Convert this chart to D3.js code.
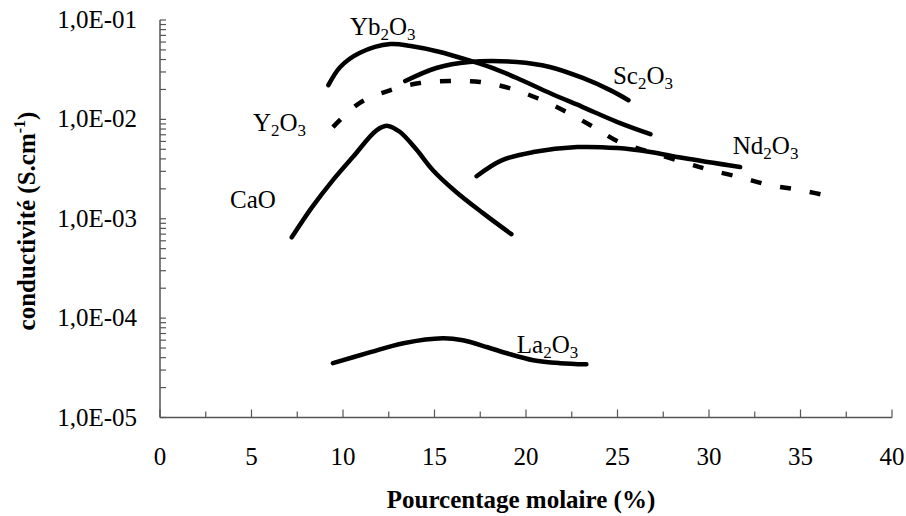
<!DOCTYPE html>
<html>
<head>
<meta charset="utf-8">
<script src="https://cdn.jsdelivr.net/npm/d3@7"></script>
<style>
  body { margin: 0; background: #fff; }
  svg text { font-family: "Liberation Serif", "Times New Roman", serif; fill: #000; }
</style>
</head>
<body>
<div id="chart"></div>
<script>
// tick values and labels
const xTicks = [0, 5, 10, 15, 20, 25, 30, 35, 40];
const yTicks = [1e-5, 1e-4, 1e-3, 1e-2, 1e-1];
const yTickLabels = ["1,0E-05", "1,0E-04", "1,0E-03", "1,0E-02", "1,0E-01"];

// series, [mol %, conductivity S/cm]
const yb2o3 = [[9.2, 0.0221], [9.85, 0.0337], [10.9, 0.0466], [12.6, 0.0573], [13.7, 0.0547],
  [15.3, 0.0477], [16.8, 0.0396], [18.0, 0.0337], [19.5, 0.0261], [21.3, 0.0184],
  [23.1, 0.0133], [25.0, 0.0094], [26.8, 0.0071]];
const sc2o3 = [[13.4, 0.0243], [15.1, 0.0329], [16.9, 0.0378], [19.5, 0.0378], [21.3, 0.0337],
  [23.1, 0.0261], [24.6, 0.0197], [25.6, 0.0156]];
const y2o3 = [[9.45, 0.00835], [10.9, 0.0146], [12.6, 0.0197], [14.2, 0.0232], [15.85, 0.0243],
  [17.5, 0.0238], [19.1, 0.0206], [20.6, 0.0164], [22.2, 0.0119], [23.7, 0.00835],
  [25.1, 0.0059], [26.8, 0.00469], [28.6, 0.00372], [30.05, 0.00309], [31.7, 0.00262],
  [33.3, 0.00218], [35.0, 0.00194], [36.8, 0.00165]];
const nd2o3 = [[17.3, 0.00268], [18.7, 0.00389], [20.4, 0.00469], [22.8, 0.00526], [25.0, 0.00514],
  [26.8, 0.00469], [28.6, 0.00408], [31.7, 0.00331]];
const cao = [[7.2, 0.00065], [8.3, 0.0013], [9.45, 0.00245], [10.55, 0.0042], [11.85, 0.0078],
  [12.45, 0.0086], [13.1, 0.0075], [14.0, 0.0050], [14.9, 0.0031], [16.2, 0.00185],
  [17.65, 0.00114], [19.2, 0.0007]];
const la2o3 = [[9.45, 3.52e-5], [11.5, 4.54e-5], [13.3, 5.59e-5], [15.45, 6.28e-5], [16.55, 5.99e-5],
  [17.9, 5.09e-5], [18.95, 4.43e-5], [20.4, 3.77e-5], [21.85, 3.52e-5], [23.3, 3.43e-5]];

const series = [
  { name: "Yb2O3", data: yb2o3, dashed: false },
  { name: "Sc2O3", data: sc2o3, dashed: false },
  { name: "Y2O3", data: y2o3, dashed: true },
  { name: "Nd2O3", data: nd2o3, dashed: false },
  { name: "CaO", data: cao, dashed: false },
  { name: "La2O3", data: la2o3, dashed: false }
];

// label text parts: [main, subscript, main, subscript] and anchor in data units
const labels = [
  { parts: ["Yb", "2", "O", "3"], at: [10.38, 0.0706] },
  { parts: ["Sc", "2", "O", "3"], at: [24.75, 0.0226] },
  { parts: ["Y", "2", "O", "3"], at: [5.08, 0.00762] },
  { parts: ["CaO"], at: [3.83, 0.00128] },
  { parts: ["Nd", "2", "O", "3"], at: [31.3, 0.00448] },
  { parts: ["La", "2", "O", "3"], at: [19.5, 4.43e-5] }
];

const width = 906, height = 516;
const margin = { top: 20, right: 14, bottom: 99, left: 160 };

const svg = d3.select("#chart").append("svg")
  .attr("width", width)
  .attr("height", height);

const x = d3.scaleLinear().domain([0, 40]).range([margin.left, width - margin.right]);
const y = d3.scaleLog().domain([1e-5, 1e-1]).range([height - margin.bottom + 0.5, margin.top]);

// minor ticks on the log axis (2..9 in each decade)
const yMinor = [];
for (let e = -5; e < -1; e++) {
  for (let k = 2; k <= 9; k++) yMinor.push(k * Math.pow(10, e));
}
const xMinor = d3.range(2.5, 40, 5);

const axisColor = "#555";
const gx = svg.append("g");
const gy = svg.append("g");

// axis lines
gx.append("line")
  .attr("x1", x(0)).attr("x2", x(40))
  .attr("y1", y(1e-5)).attr("y2", y(1e-5))
  .attr("stroke", axisColor).attr("stroke-width", 1.5);
gy.append("line")
  .attr("x1", x(0)).attr("x2", x(0))
  .attr("y1", y(1e-5)).attr("y2", y(1e-1))
  .attr("stroke", axisColor).attr("stroke-width", 1.5);

// x ticks (pointing up into the plot)
gx.selectAll(".maj").data(xTicks).join("line")
  .attr("x1", d => x(d)).attr("x2", d => x(d))
  .attr("y1", y(1e-5)).attr("y2", y(1e-5) - 8)
  .attr("stroke", axisColor).attr("stroke-width", 1.2);
gx.selectAll(".min").data(xMinor).join("line")
  .attr("x1", d => x(d)).attr("x2", d => x(d))
  .attr("y1", y(1e-5)).attr("y2", y(1e-5) - 6)
  .attr("stroke", axisColor).attr("stroke-width", 1.2);
gx.selectAll("text").data(xTicks).join("text")
  .attr("x", d => x(d))
  .attr("y", 465)
  .attr("text-anchor", "middle")
  .style("font-size", "25px")
  .text(d => d);

// y ticks (pointing right into the plot)
gy.selectAll(".maj").data(yTicks.concat(yMinor)).join("line")
  .attr("x1", x(0)).attr("x2", x(0) + 6)
  .attr("y1", d => y(d)).attr("y2", d => y(d))
  .attr("stroke", axisColor).attr("stroke-width", 1.2);
gy.selectAll("text").data(yTicks).join("text")
  .attr("x", 137)
  .attr("y", d => y(d) + 8)
  .attr("text-anchor", "end")
  .style("font-size", "25px")
  .text((d, i) => yTickLabels[i]);

// axis titles
svg.append("text")
  .attr("x", 521)
  .attr("y", 508)
  .attr("text-anchor", "middle")
  .style("font-size", "25px")
  .style("font-weight", "bold")
  .text("Pourcentage molaire (%)");

const yTitle = svg.append("text")
  .attr("transform", "translate(35,221) rotate(-90)")
  .attr("text-anchor", "middle")
  .style("font-size", "25px")
  .style("font-weight", "bold");
yTitle.append("tspan").text("conductivité (S.cm");
yTitle.append("tspan").attr("dy", -10).style("font-size", "16px").text("-1");
yTitle.append("tspan").attr("dy", 10).text(")");

// curves
const line = d3.line()
  .x(d => x(d[0]))
  .y(d => y(d[1]))
  .curve(d3.curveCatmullRom.alpha(0.5));

svg.append("g").selectAll("path").data(series).join("path")
  .attr("d", d => line(d.data))
  .attr("fill", "none")
  .attr("stroke", "#000")
  .attr("stroke-width", 4.5)
  .attr("stroke-linecap", d => d.dashed ? "butt" : "round")
  .attr("stroke-linejoin", "round")
  .attr("stroke-dasharray", d => d.dashed ? "11,19" : null);

// series labels with subscripts
const lab = svg.append("g").selectAll("text").data(labels).join("text")
  .attr("x", d => x(d.at[0]))
  .attr("y", d => y(d.at[1]))
  .style("font-size", "25px");
lab.each(function (d) {
  const t = d3.select(this);
  d.parts.forEach((p, i) => {
    const sub = i % 2 === 1;
    t.append("tspan")
      .attr("dy", sub ? 5 : (i > 0 ? -5 : 0))
      .style("font-size", sub ? "17px" : null)
      .text(p);
  });
});
</script>
</body>
</html>
